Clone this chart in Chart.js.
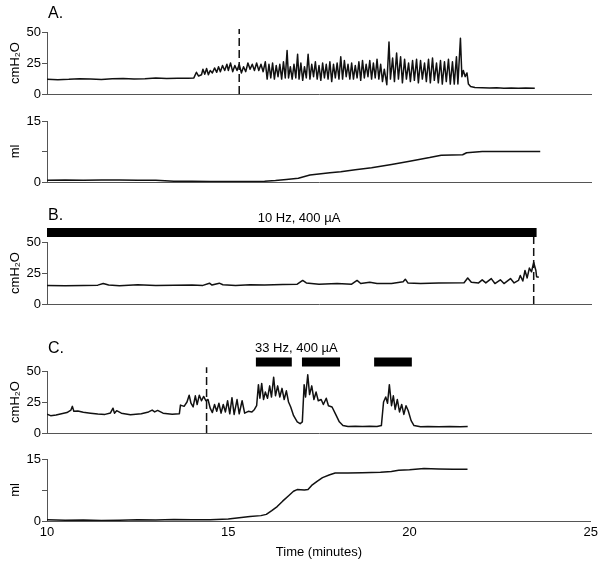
<!DOCTYPE html>
<html>
<head>
<meta charset="utf-8">
<script src="https://cdn.jsdelivr.net/npm/chart.js@4.4.1/dist/chart.umd.min.js"></script>
<style>
  body { margin: 0; background: #fff; }
  #wrap { position: relative; width: 602px; height: 569px; font-family: "Liberation Sans", Arial, sans-serif; color: #000; }
  #wrap canvas { position: absolute; left: 0; }
  .lbl { position: absolute; white-space: nowrap; line-height: 1; }
</style>
</head>
<body>
<div id="wrap">
  <canvas id="pA1" width="602" height="104" style="top:0px"></canvas>
  <canvas id="pA2" width="602" height="88" style="top:104px"></canvas>
  <canvas id="pB" width="602" height="122" style="top:192px"></canvas>
  <canvas id="pC1" width="602" height="129" style="top:314px"></canvas>
  <canvas id="pC2" width="602" height="126" style="top:443px"></canvas>
  <div class="lbl" style="left:48px;top:5px;font-size:16px">A.</div>
  <div class="lbl" style="left:48px;top:207px;font-size:16px">B.</div>
  <div class="lbl" style="left:48px;top:340px;font-size:16px">C.</div>
  <div class="lbl" style="left:299px;top:211px;font-size:13px;transform:translateX(-50%)">10 Hz, 400 µA</div>
  <div class="lbl" style="left:255px;top:341px;font-size:13px">33 Hz, 400 µA</div>
</div>
<script>
// time axis (minutes)
const timeMin = 10;
const timeMax = 25;
const timeTicks = [10, 15, 20, 25];

// A. bladder pressure (cmH2O) and voided volume (ml)
const pressureA = [
  [10.0,11.8],[10.3,11.5],[10.6,11.8],[10.9,12.3],[11.2,12.0],[11.5,11.6],[11.8,12.2],[12.1,12.4],
  [12.4,12.0],[12.7,12.3],[13.0,13.0],[13.3,12.5],[13.6,12.8],[13.9,12.8],[14.05,13.0],
  [14.12,17.5],[14.18,14.5],[14.26,15.5],[14.3,20],[14.35,16],[14.4,20.5],[14.45,15.5],[14.5,19],
  [14.56,17],[14.62,21],[14.68,17.5],[14.73,22],[14.78,18],[14.84,23],[14.9,19],[14.96,24],[15.0,19],
  [15.06,25],[15.12,18],[15.18,23],[15.24,19],[15.3,24],[15.36,17],[15.42,22],[15.48,18],[15.54,25],
  [15.6,20],[15.66,24],[15.72,19],[15.78,25],[15.84,19],[15.9,24],[15.96,18],
  [16.02,26],[16.07,12],[16.12,24],[16.17,13],[16.22,25],[16.27,12],[16.32,23],[16.37,14],[16.42,24],
  [16.47,12],[16.52,26],[16.57,13],[16.62,35],[16.66,13],[16.71,22],[16.76,12],[16.81,24],[16.86,13],
  [16.91,32],[16.95,12],[17.0,25],[17.05,11],[17.1,22],[17.15,13],[17.2,32],[17.25,12],[17.3,24],
  [17.35,14],[17.4,26],[17.45,12],[17.5,23],[17.55,11],[17.6,25],[17.65,13],[17.7,24],[17.75,12],
  [17.8,26],[17.85,10],[17.9,24],[17.95,13],[18.0,25],[18.05,12],[18.1,30],[18.15,12],[18.2,27],
  [18.25,14],[18.3,24],[18.35,12],[18.4,25],[18.45,12],[18.5,23],[18.55,13],[18.6,26],[18.65,11],
  [18.7,27],[18.75,13],[18.8,24],[18.85,14],[18.9,27],[18.95,12],[19.0,25],[19.05,13],[19.1,28],
  [19.15,12],[19.2,24],[19.25,10],[19.3,20],[19.37,7.5],[19.43,42],[19.47,12],[19.53,29],[19.58,10],
  [19.64,33],[19.69,12],[19.75,30],[19.8,9],[19.86,28],[19.91,12],[19.97,25],[20.02,10],[20.08,27],
  [20.13,11],[20.19,28],[20.24,9],[20.3,27],[20.35,12],[20.41,25],[20.46,10],[20.52,28],[20.57,9],
  [20.63,29],[20.68,11],[20.74,25],[20.79,9],[20.85,27],[20.9,8],[20.96,26],[21.01,10],[21.07,28],
  [21.12,8],[21.18,26],[21.23,8],[21.29,30],[21.33,8],[21.4,45],[21.44,14],[21.48,19],[21.53,14],
  [21.58,17],[21.62,8],[21.68,6],[21.8,5.2],[22.0,5.0],[22.2,4.8],[22.4,5.0],[22.6,4.7],[22.8,4.9],
  [23.0,4.7],[23.2,4.8],[23.45,4.6]
];
const volumeA = [
  [10.0,0.4],[10.5,0.5],[11.0,0.4],[11.5,0.5],[12.0,0.5],[12.5,0.4],[13.0,0.4],[13.5,0.2],[14.0,0.2],
  [14.5,0.15],[15.0,0.1],[15.5,0.15],[16.0,0.2],[16.3,0.35],[16.6,0.6],[16.93,0.9],[17.25,1.7],
  [17.8,2.3],[18.1,2.5],[18.5,3.0],[18.95,3.5],[19.5,4.3],[20.0,5.1],[20.55,6.0],[20.87,6.6],
  [21.46,6.7],[21.57,7.2],[22.0,7.5],[22.5,7.5],[23.0,7.5],[23.6,7.5]
];
const stimA = 15.3;

// B. 10 Hz stimulation
const pressureB = [
  [10.0,15],[10.5,14.8],[11.0,15],[11.4,15.2],[11.55,16.5],[11.7,15.3],[12.0,14.8],[12.5,15.5],
  [13.0,15],[13.5,15.2],[14.0,15.4],[14.3,15],[14.48,16.8],[14.55,15.3],[14.75,16.8],[14.85,15.5],
  [15.2,15],[15.6,15.6],[16.0,15.3],[16.5,15.8],[16.9,16],[17.05,19],[17.15,17],[17.5,16],[18.0,16.5],
  [18.4,16],[18.55,19],[18.65,16.5],[18.9,17.5],[19.1,16.5],[19.5,16.5],[19.82,18],[19.88,20],
  [19.95,17],[20.3,16.5],[20.8,17],[21.5,17.2],[21.6,21],[21.7,17.5],[21.9,17],[22.0,19.5],[22.1,17],
  [22.25,20.5],[22.35,16.5],[22.5,19.5],[22.6,16.5],[22.78,20.5],[22.88,17],[23.0,19],[23.05,23],
  [23.12,18.5],[23.18,27],[23.24,21],[23.3,29],[23.36,26],[23.42,33.5],[23.48,27],[23.5,22],[23.56,21.5]
];
const trainB = [10.0, 23.5];
const stimB = 23.42;

// C. 33 Hz stimulation
const pressureC = [
  [10.0,15.2],[10.1,14.0],[10.25,14.6],[10.4,15.5],[10.55,16.5],[10.66,18.5],[10.7,21.5],[10.74,17.5],
  [10.85,17.8],[11.0,16.8],[11.2,16.0],[11.4,15.3],[11.6,15.0],[11.75,16.2],[11.82,20.0],[11.86,16.0],
  [11.92,18.0],[12.05,16.0],[12.3,14.8],[12.6,15.5],[12.8,17.0],[12.9,18.5],[12.97,17.0],[13.05,18.2],
  [13.2,16.0],[13.45,15.2],[13.65,15.6],[13.68,22.5],[13.78,21.5],[13.86,25.0],[13.92,30.5],
  [13.97,24.0],[14.03,21.0],[14.09,30.0],[14.14,23.0],[14.2,30.5],[14.26,26.0],[14.32,29.5],
  [14.38,26.0],[14.44,27.0],[14.5,20.0],[14.56,16.5],[14.62,23.0],[14.68,17.5],[14.74,24.0],
  [14.8,16.0],[14.86,23.0],[14.92,17.0],[14.98,26.0],[15.04,15.5],[15.1,28.5],[15.16,15.0],
  [15.24,27.0],[15.3,15.5],[15.38,26.0],[15.45,16.0],[15.55,17.5],[15.65,17.0],[15.72,19.0],
  [15.78,22.0],[15.83,39.0],[15.87,28.0],[15.92,40.0],[15.97,27.0],[16.02,33.0],[16.08,28.0],
  [16.14,38.0],[16.19,29.0],[16.25,45.0],[16.3,30.0],[16.36,38.0],[16.42,29.0],[16.48,36.0],
  [16.54,27.0],[16.6,34.0],[16.66,25.0],[16.72,21.0],[16.8,14.0],[16.9,9.0],[16.98,7.5],[17.04,9.0],
  [17.09,39.0],[17.13,29.0],[17.19,47.0],[17.24,31.0],[17.3,38.0],[17.36,27.0],[17.42,33.0],
  [17.48,26.0],[17.56,27.0],[17.62,23.0],[17.7,28.0],[17.76,22.0],[17.86,21.0],[17.96,15.0],
  [18.06,9.0],[18.16,6.0],[18.3,5.2],[18.5,5.5],[18.7,5.2],[18.9,5.5],[19.1,5.2],[19.22,6.0],
  [19.28,25.0],[19.34,29.0],[19.39,24.0],[19.44,39.0],[19.5,22.0],[19.55,30.0],[19.6,19.0],
  [19.66,27.0],[19.72,17.0],[19.78,23.0],[19.84,15.0],[19.9,22.0],[19.96,18.0],[20.04,10.0],
  [20.12,6.0],[20.3,5.0],[20.5,5.3],[20.8,5.0],[21.1,5.3],[21.4,5.0],[21.6,5.2]
];
const volumeC = [
  [10.0,0.3],[10.5,0.2],[11.0,0.25],[11.5,0.15],[12.0,0.2],[12.5,0.3],[13.0,0.25],[13.5,0.35],
  [14.0,0.3],[14.5,0.3],[15.0,0.5],[15.3,0.8],[15.6,1.1],[15.9,1.3],[16.05,1.6],[16.2,2.5],
  [16.35,3.5],[16.5,4.8],[16.65,6.0],[16.8,7.2],[16.9,7.6],[17.1,7.5],[17.2,7.6],[17.3,8.6],
  [17.45,9.6],[17.6,10.5],[17.8,11.2],[17.95,11.6],[18.3,11.6],[18.7,11.7],[19.2,11.8],[19.5,12.0],
  [19.7,12.3],[20.0,12.4],[20.4,12.7],[20.8,12.6],[21.2,12.5],[21.6,12.5]
];
const trainsC = [[15.76, 16.75], [17.03, 18.08], [19.02, 20.06]];
const stimC = 14.4;

const FONT = "'Liberation Sans', Arial, sans-serif";

function pts(list) {
  return list.map(([x, y]) => ({ x, y }));
}

function trace(list) {
  return {
    data: pts(list), borderColor: "#111", borderWidth: 1.5,
    pointRadius: 0, tension: 0, borderJoinStyle: "round"
  };
}

function dashed(t, top) {
  return {
    data: [{ x: t, y: 0 }, { x: t, y: top }], borderColor: "#111", borderWidth: 1.5,
    borderDash: [8, 4], pointRadius: 0, clip: false
  };
}

function train(from, to, level) {
  return {
    data: [{ x: from, y: level }, { x: to, y: level }], borderColor: "#000", borderWidth: 9,
    borderCapStyle: "butt", pointRadius: 0, clip: false
  };
}

function yAxis(max, step, title) {
  return {
    min: 0, max: max,
    afterFit: (s) => { s.width = 47; },
    ticks: {
      stepSize: step, color: "#000", padding: 1, font: { size: 13, family: FONT },
      callback: (v) => (v === 0 || v === max ? v : (max === 50 ? v : ""))
    },
    grid: { drawOnChartArea: false, tickLength: 5, color: "#555" },
    border: { color: "#555", width: 1 },
    title: { display: true, text: title, color: "#000", font: { size: 13, family: FONT }, padding: { top: 8, bottom: 0 } }
  };
}

function xAxis(withLabels) {
  const ax = {
    type: "linear", min: timeMin, max: timeMax, position: "bottom",
    grid: { display: false, drawTicks: false },
    border: { color: "#555", width: 1 },
    ticks: { display: false }
  };
  if (withLabels) {
    ax.afterBuildTicks = (s) => { s.ticks = timeTicks.map((v) => ({ value: v })); };
    ax.afterFit = (s) => { s.height = 48; };
    ax.ticks = { display: true, color: "#000", padding: 4, font: { size: 13, family: FONT } };
    ax.title = { display: true, text: "Time (minutes)", color: "#000", font: { size: 13, family: FONT }, padding: { top: 0, bottom: 9 } };
  } else {
    ax.afterFit = (s) => { s.height = 0; };
  }
  return ax;
}

function panel(id, datasets, y, pad, withLabels) {
  return new Chart(document.getElementById(id), {
    type: "line",
    data: { datasets },
    options: {
      responsive: false, animation: false, parsing: true,
      layout: { padding: { top: pad[0], bottom: pad[1], left: 0, right: 11 } },
      plugins: { legend: { display: false }, tooltip: { enabled: false } },
      scales: { x: xAxis(withLabels), y }
    }
  });
}

panel("pA1", [trace(pressureA), dashed(stimA, 52.5)], yAxis(50, 25, "cmH\u2082O"), [32, 10], false);
panel("pA2", [trace(volumeA)], yAxis(15, 7.5, "ml"), [17, 10], false);
panel("pB", [trace(pressureB), train(trainB[0], trainB[1], 57.7), dashed(stimB, 54)], yAxis(50, 25, "cmH\u2082O"), [50, 10], false);
panel("pC1", [trace(pressureC), dashed(stimC, 53)].concat(trainsC.map((b) => train(b[0], b[1], 57.3))),
  yAxis(50, 25, "cmH\u2082O"), [57, 10], false);
panel("pC2", [trace(volumeC)], yAxis(15, 7.5, "ml"), [16, 0], true);
</script>
</body>
</html>
